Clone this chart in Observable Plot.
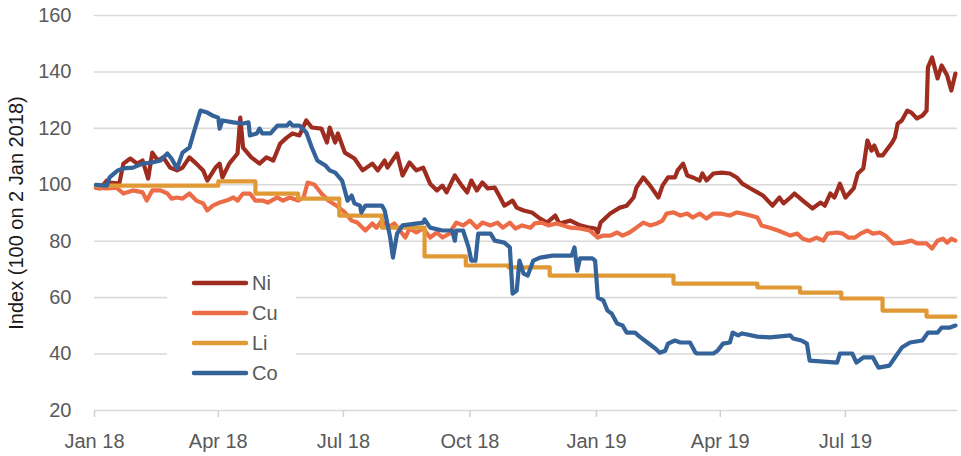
<!DOCTYPE html>
<html><head><meta charset="utf-8">
<script src="https://cdn.jsdelivr.net/npm/d3@7"></script>
<script src="https://cdn.jsdelivr.net/npm/@observablehq/plot@0.6"></script>
<style>
body{margin:0;background:#fff;}
#wrap{position:relative;width:961px;height:456px;font-family:"Liberation Sans",Arial,sans-serif;}
#legend{position:absolute;left:167px;top:265px;width:129px;height:126px;background:#fff;}
.item{position:absolute;left:0;height:24px;display:flex;align-items:center;}
.item svg{margin-left:24px;}
.item span{margin-left:3px;font-size:20px;color:#595959;}
</style>
</head><body>
<div id="wrap"><div id="chart"></div><div id="legend"></div></div>
<script>
const seriesNames = ["Ni", "Cu", "Li", "Co"];
const seriesColors = ["#9e2c1f", "#ec6c47", "#e09934", "#346399"];
const yTicks = [20, 40, 60, 80, 100, 120, 140, 160];
const xTicks = ["2018-01-01","2018-04-01","2018-07-01","2018-10-01","2019-01-01","2019-04-01","2019-07-01"];
const yLabel = "Index (100 on 2 Jan 2018)";

const niDates = ["2018-01-02","2018-01-05","2018-01-10","2018-01-12","2018-01-19","2018-01-22","2018-01-27","2018-02-01","2018-02-05","2018-02-09","2018-02-12","2018-02-16","2018-02-20","2018-02-25","2018-03-02","2018-03-06","2018-03-11","2018-03-16","2018-03-21","2018-03-24","2018-03-30","2018-04-02","2018-04-04","2018-04-09","2018-04-15","2018-04-17","2018-04-19","2018-04-25","2018-05-01","2018-05-06","2018-05-11","2018-05-16","2018-05-21","2018-05-25","2018-05-30","2018-06-04","2018-06-08","2018-06-15","2018-06-19","2018-06-21","2018-06-25","2018-06-27","2018-07-02","2018-07-09","2018-07-15","2018-07-22","2018-07-26","2018-07-31","2018-08-02","2018-08-09","2018-08-13","2018-08-18","2018-08-23","2018-08-28","2018-09-02","2018-09-07","2018-09-11","2018-09-14","2018-09-20","2018-09-25","2018-09-29","2018-10-02","2018-10-06","2018-10-10","2018-10-14","2018-10-19","2018-10-23","2018-10-26","2018-11-01","2018-11-04","2018-11-09","2018-11-15","2018-11-21","2018-11-26","2018-12-02","2018-12-05","2018-12-13","2018-12-20","2018-12-27","2018-12-31","2019-01-02","2019-01-04","2019-01-11","2019-01-18","2019-01-23","2019-01-28","2019-01-30","2019-02-04","2019-02-09","2019-02-15","2019-02-18","2019-02-22","2019-02-27","2019-03-01","2019-03-05","2019-03-08","2019-03-12","2019-03-17","2019-03-19","2019-03-22","2019-03-27","2019-04-02","2019-04-08","2019-04-13","2019-04-17","2019-04-23","2019-04-28","2019-05-02","2019-05-09","2019-05-14","2019-05-17","2019-05-22","2019-05-25","2019-05-31","2019-06-07","2019-06-13","2019-06-16","2019-06-20","2019-06-23","2019-06-27","2019-07-01","2019-07-07","2019-07-10","2019-07-14","2019-07-17","2019-07-20","2019-07-22","2019-07-25","2019-07-28","2019-08-04","2019-08-06","2019-08-08","2019-08-11","2019-08-15","2019-08-18","2019-08-22","2019-08-26","2019-08-29","2019-08-30","2019-09-02","2019-09-06","2019-09-09","2019-09-13","2019-09-16","2019-09-19"];
const niValues = [99.0,98.7,101.5,100.8,100.4,107.5,109.3,107.5,108.6,102.2,111.4,108.6,109.7,106.1,105.1,106.1,109.7,107.5,105.1,101.5,106.1,107.5,102.6,107.5,111.1,123.8,113.2,109.7,107.5,109.7,108.6,114.6,116.8,118.2,117.5,122.8,120.3,119.9,115.0,120.3,115.0,118.2,111.4,109.3,105.1,107.5,105.1,108.6,106.1,111.1,103.3,107.9,105.1,106.1,100.4,98.0,99.7,97.3,103.3,99.7,97.3,101.5,98.0,100.8,98.7,99.0,95.5,92.6,94.4,91.9,90.9,90.2,88.0,86.6,89.1,86.3,87.3,85.6,84.8,84.5,83.1,86.6,89.8,91.9,92.6,95.5,99.0,102.6,99.7,95.5,99.7,102.6,102.6,105.1,107.5,103.3,102.6,101.5,104.0,101.5,104.0,104.3,104.0,102.6,100.4,98.7,97.3,96.2,92.6,95.5,93.4,95.5,96.9,94.4,91.6,93.7,92.6,96.9,95.5,100.4,95.5,98.7,104.0,105.8,115.7,112.1,113.9,110.4,110.4,115.0,116.8,121.7,122.8,126.3,125.6,123.5,124.5,126.3,141.6,145.1,137.7,142.3,138.7,133.4,139.4];

const cuDates = ["2018-01-02","2018-01-10","2018-01-17","2018-01-22","2018-01-29","2018-02-05","2018-02-08","2018-02-12","2018-02-18","2018-02-23","2018-02-26","2018-03-02","2018-03-06","2018-03-11","2018-03-16","2018-03-21","2018-03-24","2018-03-28","2018-04-02","2018-04-07","2018-04-12","2018-04-15","2018-04-19","2018-04-24","2018-04-28","2018-05-03","2018-05-07","2018-05-14","2018-05-18","2018-05-23","2018-05-29","2018-06-02","2018-06-05","2018-06-10","2018-06-15","2018-06-20","2018-06-26","2018-07-02","2018-07-07","2018-07-11","2018-07-17","2018-07-22","2018-07-25","2018-07-29","2018-08-02","2018-08-07","2018-08-11","2018-08-15","2018-08-18","2018-08-23","2018-08-28","2018-09-02","2018-09-07","2018-09-11","2018-09-16","2018-09-21","2018-09-26","2018-10-01","2018-10-06","2018-10-10","2018-10-16","2018-10-21","2018-10-25","2018-10-30","2018-11-03","2018-11-08","2018-11-14","2018-11-17","2018-11-22","2018-11-27","2018-12-03","2018-12-08","2018-12-13","2018-12-20","2018-12-27","2019-01-02","2019-01-06","2019-01-11","2019-01-16","2019-01-20","2019-01-25","2019-01-30","2019-02-04","2019-02-09","2019-02-14","2019-02-18","2019-02-21","2019-02-26","2019-03-03","2019-03-08","2019-03-12","2019-03-17","2019-03-22","2019-03-27","2019-04-01","2019-04-08","2019-04-13","2019-04-17","2019-04-23","2019-04-28","2019-05-01","2019-05-07","2019-05-13","2019-05-22","2019-05-27","2019-05-31","2019-06-05","2019-06-10","2019-06-15","2019-06-18","2019-06-25","2019-06-29","2019-07-03","2019-07-08","2019-07-12","2019-07-17","2019-07-21","2019-07-26","2019-07-30","2019-08-05","2019-08-12","2019-08-18","2019-08-22","2019-08-29","2019-09-02","2019-09-06","2019-09-10","2019-09-13","2019-09-16","2019-09-19"];
const cuValues = [99.0,98.7,99.0,96.9,98.0,97.3,94.4,98.0,98.0,96.9,95.1,95.5,95.1,96.9,94.4,93.4,90.9,92.6,93.7,94.4,95.5,94.4,96.9,96.9,94.4,94.4,93.7,95.5,94.4,95.5,94.4,95.5,100.8,100.0,96.9,94.4,92.6,90.2,87.3,86.6,83.8,86.3,84.8,87.3,84.8,86.3,83.8,81.3,84.5,83.1,84.5,81.3,83.1,81.3,82.7,86.6,85.6,87.3,84.8,86.6,85.6,86.6,84.8,86.6,84.5,85.6,84.8,86.3,86.6,85.6,86.3,85.6,84.8,84.5,83.8,81.3,82.0,82.0,83.1,82.0,83.1,84.8,86.6,85.6,86.3,87.3,89.8,90.2,89.1,89.8,88.4,89.8,88.0,89.8,89.8,89.1,90.2,89.8,89.1,88.4,85.6,84.8,83.8,82.0,82.7,80.9,80.2,81.3,80.2,82.7,83.1,82.7,81.3,81.3,82.7,83.8,82.7,83.1,82.0,79.2,79.5,80.2,79.2,79.2,77.4,80.2,80.9,79.5,80.9,80.2];

const liDates = ["2018-01-02","2018-04-01","2018-04-28","2018-05-29","2018-06-28","2018-07-29","2018-08-29","2018-09-28","2018-10-29","2018-11-28","2019-02-26","2019-04-28","2019-05-29","2019-06-28","2019-07-28","2019-08-29","2019-09-19"];
const liValues = [99.7,101.2,96.9,95.1,89.1,84.8,74.6,71.4,70.7,67.8,65.0,63.6,61.8,59.7,55.4,53.3,53.3];

const coDates = ["2018-01-02","2018-01-10","2018-01-12","2018-01-16","2018-01-18","2018-01-22","2018-01-29","2018-02-05","2018-02-12","2018-02-18","2018-02-20","2018-02-23","2018-02-26","2018-03-02","2018-03-06","2018-03-11","2018-03-14","2018-03-19","2018-03-24","2018-03-28","2018-04-01","2018-04-02","2018-04-04","2018-04-12","2018-04-19","2018-04-23","2018-04-24","2018-04-29","2018-05-01","2018-05-03","2018-05-09","2018-05-14","2018-05-21","2018-05-23","2018-05-25","2018-05-30","2018-06-04","2018-06-08","2018-06-12","2018-06-18","2018-06-21","2018-06-25","2018-06-30","2018-07-02","2018-07-04","2018-07-07","2018-07-09","2018-07-13","2018-07-14","2018-07-17","2018-07-29","2018-07-31","2018-08-04","2018-08-06","2018-08-09","2018-08-13","2018-08-28","2018-08-29","2018-09-02","2018-09-11","2018-09-18","2018-09-20","2018-09-21","2018-09-26","2018-09-30","2018-10-02","2018-10-05","2018-10-07","2018-10-16","2018-10-19","2018-10-26","2018-10-30","2018-11-01","2018-11-04","2018-11-06","2018-11-09","2018-11-12","2018-11-16","2018-11-21","2018-11-30","2018-12-14","2018-12-16","2018-12-18","2018-12-20","2018-12-29","2018-12-31","2019-01-02","2019-01-06","2019-01-09","2019-01-12","2019-01-16","2019-01-20","2019-01-23","2019-01-29","2019-02-02","2019-02-07","2019-02-13","2019-02-16","2019-02-20","2019-02-22","2019-02-27","2019-03-03","2019-03-10","2019-03-14","2019-03-15","2019-03-27","2019-03-30","2019-04-03","2019-04-08","2019-04-10","2019-04-14","2019-04-17","2019-04-28","2019-05-07","2019-05-22","2019-05-24","2019-05-30","2019-06-03","2019-06-05","2019-06-25","2019-06-27","2019-07-06","2019-07-09","2019-07-14","2019-07-21","2019-07-25","2019-08-02","2019-08-06","2019-08-11","2019-08-17","2019-08-26","2019-08-30","2019-09-06","2019-09-09","2019-09-15","2019-09-19"];
const coValues = [100.0,99.7,102.6,104.3,105.1,105.8,106.1,107.5,107.9,108.6,109.7,111.1,109.3,105.8,111.4,113.2,118.2,126.3,125.6,124.5,123.8,119.9,122.8,122.1,121.7,122.1,117.5,118.2,119.9,118.2,118.2,121.0,121.0,122.1,121.0,121.0,118.5,113.2,108.6,106.8,105.1,104.3,101.5,98.0,94.4,96.2,93.4,92.6,90.2,92.6,92.6,90.9,81.3,74.2,82.7,85.6,86.6,87.7,84.8,83.8,83.8,80.2,83.8,83.8,77.8,73.1,73.1,82.7,82.7,80.2,79.5,77.8,61.4,62.5,73.1,68.5,67.8,73.1,74.2,74.9,74.9,77.8,69.6,73.9,73.9,73.1,60.0,59.0,55.4,54.4,50.8,50.1,47.6,47.6,45.9,44.1,41.9,40.5,41.2,43.7,44.8,44.1,44.1,40.5,40.2,40.2,41.2,43.7,44.1,47.6,46.6,47.3,46.2,45.9,46.6,45.5,44.8,43.7,37.7,37.0,40.2,40.2,37.0,38.8,38.8,35.2,35.9,38.8,42.3,44.1,44.8,47.6,47.6,49.4,49.4,50.1];

const parse = d3.utcParse("%Y-%m-%d");
function rowsOf(name, dates, values) {
  return dates.map((d, i) => ({series: name, date: parse(d), value: values[i]}));
}
const niRows = rowsOf("Ni", niDates, niValues);
const cuRows = rowsOf("Cu", cuDates, cuValues);
const liRows = rowsOf("Li", liDates, liValues);
const coRows = rowsOf("Co", coDates, coValues);

const lineOpts = {x: "date", y: "value", stroke: "series", strokeWidth: 4.2, strokeLinejoin: "round", strokeLinecap: "round"};

const chart = Plot.plot({
  width: 961,
  height: 456,
  marginLeft: 94,
  marginRight: 4,
  marginTop: 15,
  marginBottom: 46,
  style: {fontFamily: "'Liberation Sans', Arial, sans-serif", fontSize: "20px", background: "#fff", overflow: "visible"},
  x: {type: "utc", domain: [parse("2018-01-01"), new Date(Date.UTC(2019, 8, 20, 12))]},
  y: {domain: [20, 160]},
  color: {domain: seriesNames, range: seriesColors},
  marks: [
    Plot.ruleY(yTicks, {stroke: "#d9d9d9", strokeWidth: 1.6}),
    Plot.axisY({ticks: yTicks, tickSize: 0, tickPadding: 23, fill: "#595959", label: null}),
    Plot.axisY({ticks: [], label: yLabel, labelAnchor: "center", labelArrow: "none", labelOffset: 86, fill: "#1a1a1a"}),
    Plot.axisX({ticks: xTicks.map(parse), tickFormat: d3.utcFormat("%b %y"), tickSize: 7, tickPadding: 16, stroke: "#d0d0d0", strokeWidth: 1.5, fill: "#595959", label: null}),
    Plot.line(niRows, lineOpts),
    Plot.line(cuRows, lineOpts),
    Plot.line(liRows, {...lineOpts, curve: "step-after"}),
    Plot.line(coRows, lineOpts)
  ]
});
document.getElementById("chart").appendChild(chart);

const legend = document.getElementById("legend");
seriesNames.forEach((name, i) => {
  const item = document.createElement("div");
  item.className = "item";
  item.style.top = (6 + i * 30) + "px";
  item.innerHTML = `<svg width="58" height="8"><line x1="3" y1="4" x2="55" y2="4" stroke="${seriesColors[i]}" stroke-width="4.5" stroke-linecap="round"/></svg><span>${name}</span>`;
  legend.appendChild(item);
});
</script>
</body></html>
